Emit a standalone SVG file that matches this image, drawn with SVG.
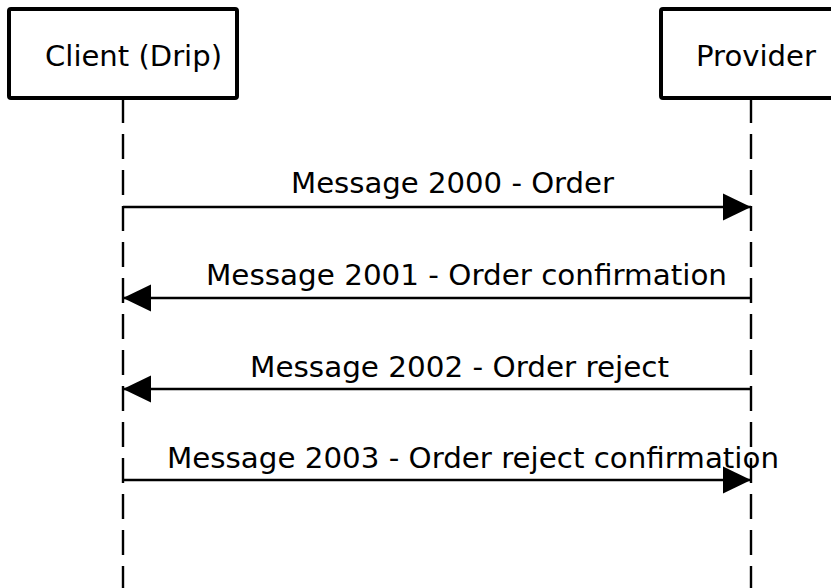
<svg xmlns="http://www.w3.org/2000/svg" width="831" height="588" viewBox="0 0 831 588">
<style>
.box{fill:#fff;stroke:#000;stroke-width:4;stroke-linejoin:round}
.life{stroke:#000;stroke-width:2.4;stroke-dasharray:25 11;fill:none}
.msg{stroke:#000;stroke-width:2.5;fill:none}
text{font-family:"DejaVu Sans","Liberation Sans",sans-serif;font-size:28px;fill:#000}
</style>
<defs>
<marker id="ah" markerUnits="userSpaceOnUse" markerWidth="28" markerHeight="28" viewBox="0 0 27 26" refX="27" refY="13" orient="auto">
<path d="M0,0 L27,13 L0,26 Z" fill="#000"/>
</marker>
</defs>
<g id="lifelines">
<line class="life" x1="123" y1="98" x2="123" y2="588"/>
<line class="life" x1="751" y1="98" x2="751" y2="588"/>
</g>
<g id="client">
<rect class="box" x="9" y="9" width="228" height="89" rx="2"/>
<text x="45" y="66" textLength="177" lengthAdjust="spacingAndGlyphs">Client (Drip)</text>
</g>
<g id="provider">
<rect class="box" x="661" y="9" width="228" height="89" rx="2"/>
<text x="696" y="66" textLength="120" lengthAdjust="spacingAndGlyphs">Provider</text>
</g>
<g id="connectors">
<line class="msg" x1="123" y1="207" x2="751" y2="207" marker-end="url(#ah)"/>
<text x="291" y="193" textLength="323" lengthAdjust="spacingAndGlyphs">Message 2000 - Order</text>
<line class="msg" x1="751" y1="298" x2="123" y2="298" marker-end="url(#ah)"/>
<text x="206" y="285" textLength="521" lengthAdjust="spacingAndGlyphs">Message 2001 - Order confirmation</text>
<line class="msg" x1="751" y1="389" x2="123" y2="389" marker-end="url(#ah)"/>
<text x="250" y="377" textLength="419" lengthAdjust="spacingAndGlyphs">Message 2002 - Order reject</text>
<line class="msg" x1="123" y1="480" x2="751" y2="480" marker-end="url(#ah)"/>
<text x="167" y="468" textLength="612" lengthAdjust="spacingAndGlyphs">Message 2003 - Order reject confirmation</text>
</g>
</svg>
